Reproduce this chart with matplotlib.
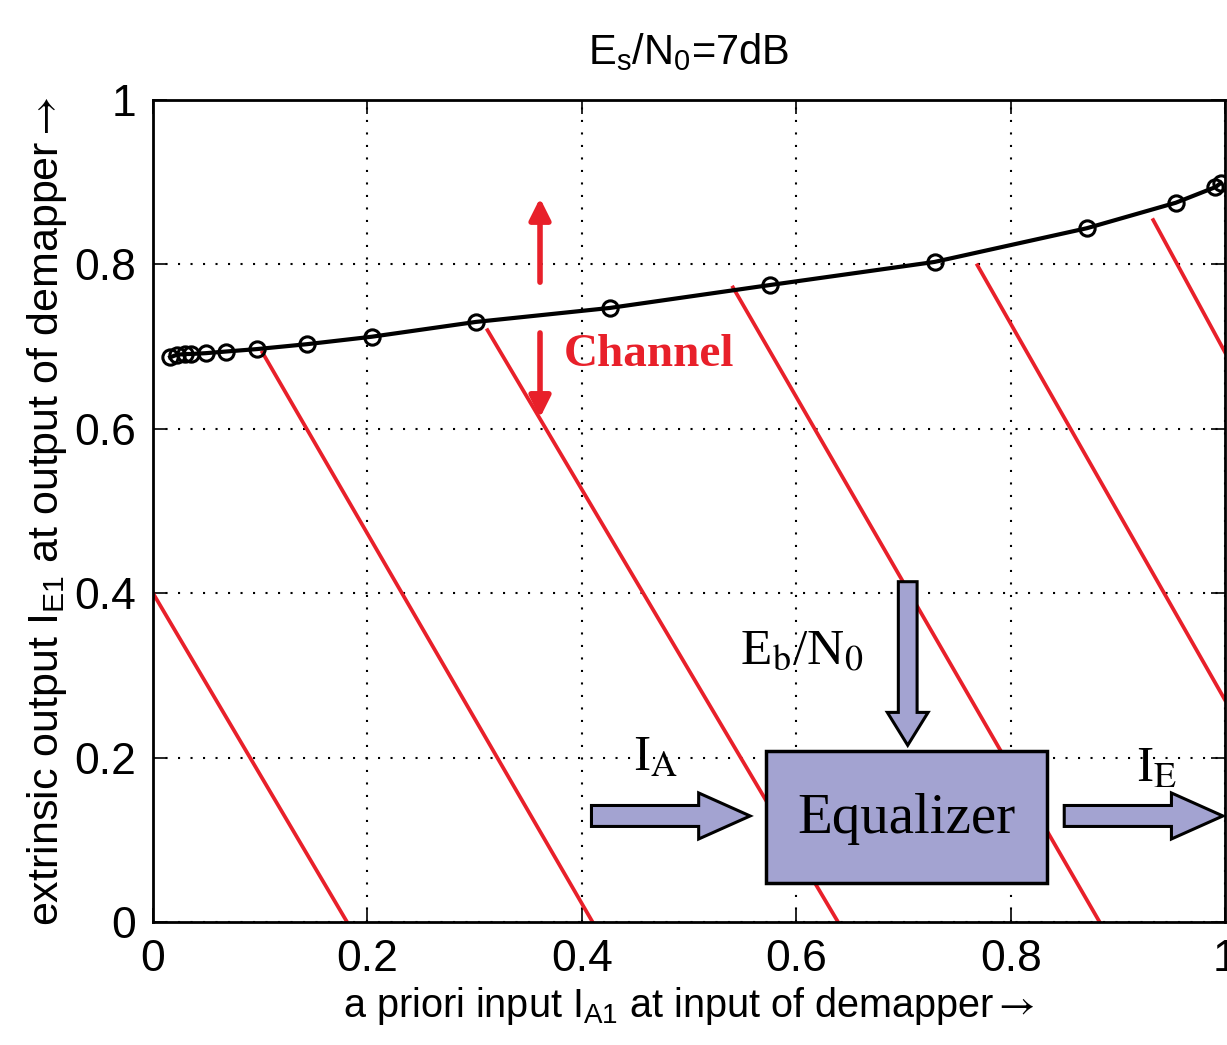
import matplotlib.pyplot as plt
from matplotlib.patches import FancyArrow, Rectangle

plt.rcParams['font.family'] = ['Liberation Sans', 'DejaVu Sans']
plt.rcParams['mathtext.fontset'] = 'stix'

# curva de transferencia do demapper (Es/N0 = 7dB)
ia = [0.016, 0.022, 0.030, 0.035, 0.049, 0.068, 0.097, 0.144, 0.204,
      0.301, 0.426, 0.576, 0.729, 0.871, 0.954, 0.991, 0.996]
ie = [0.687, 0.690, 0.691, 0.691, 0.692, 0.694, 0.697, 0.703, 0.712,
      0.730, 0.747, 0.775, 0.803, 0.844, 0.875, 0.894, 0.899]

# retas vermelhas (inicio x, inicio y, fim x, fim y)
red_x0 = [0.000, 0.102, 0.312, 0.541, 0.769, 0.933]
red_y0 = [0.400, 0.693, 0.720, 0.772, 0.799, 0.854]
red_x1 = [0.181, 0.410, 0.639, 0.883, 1.000, 1.000]
red_y1 = [0.000, 0.000, 0.000, 0.000, 0.270, 0.693]

ticks = [0, 0.2, 0.4, 0.6, 0.8, 1]
tick_labels = ['0', '0.2', '0.4', '0.6', '0.8', '1']

fig = plt.figure(figsize=(12.27, 10.45), dpi=100)
ax = fig.add_axes([0.1247, 0.1177, 0.8737, 0.7866])

for x0, y0, x1, y1 in zip(red_x0, red_y0, red_x1, red_y1):
    ax.plot([x0, x1], [y0, y1], color='#e8202a', linewidth=2.7, zorder=2)

ax.plot(ia, ie, color='black', linewidth=3, marker='o', markersize=11,
        markerfacecolor='none', markeredgecolor='black', markeredgewidth=2.2,
        zorder=3)

ax.set_xlim(0, 1)
ax.set_ylim(0, 1)
ax.set_xticks(ticks)
ax.set_xticklabels(tick_labels)
ax.set_yticks(ticks)
ax.set_yticklabels(tick_labels)
ax.tick_params(direction='in', length=10, width=1.2, labelsize=32,
               top=True, right=True, pad=12)
ax.grid(True, color='black', linestyle=(0, (1, 5)), linewidth=1.5)
for s in ax.spines.values():
    s.set_linewidth(2)

ax.set_title(r'E$\mathregular{_s}$/N$\mathregular{_0}$=7dB', fontsize=30, pad=26)
ax.set_xlabel(r'a priori input I$\mathregular{_{A1}}$ at input of demapper$\rightarrow$',
              fontsize=28.5, labelpad=4)
ax.set_ylabel(r'extrinsic output I$\mathregular{_{E1}}$ at output of demapper$\rightarrow$',
              fontsize=31, labelpad=4)

# seta vermelha "Channel"
ax.annotate('', xy=(0.361, 0.884), xytext=(0.361, 0.775),
            arrowprops=dict(arrowstyle='-|>', color='#e8202a', lw=4,
                            mutation_scale=32))
ax.annotate('', xy=(0.361, 0.610), xytext=(0.361, 0.720),
            arrowprops=dict(arrowstyle='-|>', color='#e8202a', lw=4,
                            mutation_scale=32))
ax.text(0.383, 0.690, 'Channel', color='#e8202a', fontsize=34,
        fontweight='bold', family='Liberation Serif', ha='left', va='center')

# diagrama de blocos do equalizador
lav = '#a3a3d1'
tr = ax.transAxes
ax.add_patch(Rectangle((0.572, 0.048), 0.262, 0.160, transform=tr,
                       facecolor=lav, edgecolor='black', linewidth=2.5,
                       zorder=5))
ax.text(0.703, 0.125, 'Equalizer', transform=tr, fontsize=41,
        family='Liberation Serif', ha='center', va='center', zorder=6)
ax.add_patch(FancyArrow(0.704, 0.414, 0, -0.199, width=0.0175,
                        head_width=0.038, head_length=0.04,
                        length_includes_head=True, transform=tr,
                        facecolor=lav, edgecolor='black', linewidth=2.2,
                        zorder=5))
ax.add_patch(FancyArrow(0.409, 0.129, 0.148, 0, width=0.0255,
                        head_width=0.056, head_length=0.048,
                        length_includes_head=True, transform=tr,
                        facecolor=lav, edgecolor='black', linewidth=2.2,
                        zorder=5))
ax.add_patch(FancyArrow(0.850, 0.129, 0.148, 0, width=0.0255,
                        head_width=0.056, head_length=0.048,
                        length_includes_head=True, transform=tr,
                        facecolor=lav, edgecolor='black', linewidth=2.2,
                        zorder=5, clip_on=False))
ax.text(0.548, 0.313, r'E$_\mathrm{b}$/N$_0$', transform=tr, fontsize=37,
        family='Liberation Serif', ha='left', va='baseline', zorder=6)
ax.text(0.448, 0.185, r'I$_\mathrm{A}$', transform=tr, fontsize=37,
        family='Liberation Serif', ha='left', va='baseline', zorder=6)
ax.text(0.917, 0.172, r'I$_\mathrm{E}$', transform=tr, fontsize=37,
        family='Liberation Serif', ha='left', va='baseline', zorder=6)

fig.savefig('out.png', dpi=100)
